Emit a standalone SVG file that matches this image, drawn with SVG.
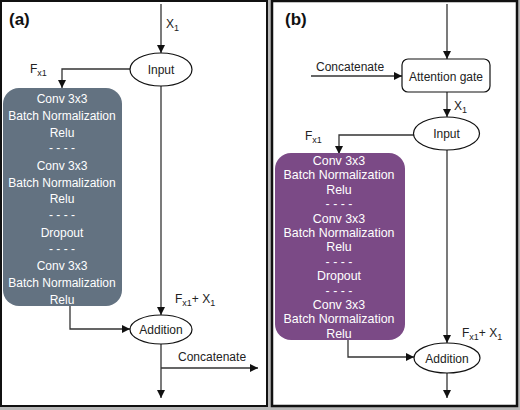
<svg xmlns="http://www.w3.org/2000/svg" width="520" height="410" viewBox="0 0 520 410">
<defs>
<marker id="ah" viewBox="0 0 10 10" refX="10" refY="5" markerWidth="8" markerHeight="8" markerUnits="userSpaceOnUse" orient="auto">
<path d="M0,0 L10,5 L0,10 z" fill="#111"/>
</marker>
<style>
text{font-family:"Liberation Sans",Arial,sans-serif;}
.lbl{font-size:12px;fill:#222;}
.blk{font-size:12px;fill:#fff;text-anchor:middle;}
.blkb{font-size:12.4px;fill:#fff;text-anchor:middle;}
.ttl{font-size:17px;font-weight:bold;fill:#111;}
.ca{fill:none;stroke:#333;stroke-width:1.3;marker-end:url(#ah);}
.ell{fill:#fff;stroke:#111;stroke-width:1.2;}
.sub{font-size:9px;}
</style>
</defs>
<rect x="0" y="0" width="520" height="410" fill="#b8b8b8"/>
<rect x="1" y="1" width="266" height="405" fill="#fff" stroke="#111" stroke-width="2"/>
<rect x="272" y="1" width="245" height="405" fill="#fff" stroke="#111" stroke-width="2.5"/>

<g id="connectors">
<line class="ca" x1="161" y1="4" x2="161" y2="53"/>
<polyline class="ca" points="130,69 62,69 62,88"/>
<line class="ca" x1="161" y1="86" x2="161" y2="315"/>
<polyline class="ca" points="70,306 70,329 130,329"/>
<line class="ca" x1="161" y1="344" x2="161" y2="398"/>
<line class="ca" x1="161" y1="368" x2="258" y2="368"/>
<line class="ca" x1="447" y1="4" x2="447" y2="59"/>
<line class="ca" x1="311" y1="76" x2="402" y2="76"/>
<line class="ca" x1="447" y1="92" x2="447" y2="117"/>
<polyline class="ca" points="414,135 339,135 339,154"/>
<line class="ca" x1="447" y1="150" x2="447" y2="343"/>
<polyline class="ca" points="348,340 348,357 414,357"/>
<line class="ca" x1="447" y1="373" x2="447" y2="398"/>
</g>

<g id="labels-a">
<text class="ttl" x="9" y="25">(a)</text>
<text class="lbl" x="166" y="28" font-size="13">X<tspan class="sub" dy="3">1</tspan></text>
<text class="lbl" x="30" y="73">F<tspan class="sub" dy="3">x1</tspan></text>
<text class="lbl" x="175" y="303">F<tspan class="sub" dy="3">x1</tspan><tspan dy="-3">+ X</tspan><tspan class="sub" dy="3">1</tspan></text>
<text class="lbl" x="178" y="361">Concatenate</text>
</g>

<g id="input-a">
<ellipse class="ell" cx="161" cy="69.5" rx="31" ry="16.5"/>
<text class="lbl" x="161" y="74" text-anchor="middle">Input</text>
</g>

<g id="block-a">
<rect x="3" y="88" width="119" height="218" rx="16" fill="#637281"/>
<text class="blk" x="62" y="103">Conv 3x3</text>
<text class="blk" x="62" y="120">Batch Normalization</text>
<text class="blk" x="62" y="137">Relu</text>
<text class="blk" x="62" y="152">- - - -</text>
<text class="blk" x="62" y="170">Conv 3x3</text>
<text class="blk" x="62" y="187">Batch Normalization</text>
<text class="blk" x="62" y="203">Relu</text>
<text class="blk" x="62" y="219">- - - -</text>
<text class="blk" x="62" y="237">Dropout</text>
<text class="blk" x="62" y="253">- - - -</text>
<text class="blk" x="62" y="270">Conv 3x3</text>
<text class="blk" x="62" y="287">Batch Normalization</text>
<text class="blk" x="62" y="304">Relu</text>
</g>

<g id="addition-a">
<ellipse class="ell" cx="161" cy="329.5" rx="31" ry="14.5"/>
<text class="lbl" x="161" y="334" text-anchor="middle">Addition</text>
</g>

<g id="labels-b">
<text class="ttl" x="285" y="25">(b)</text>
<text class="lbl" x="316" y="71" font-size="13">Concatenate</text>
<text class="lbl" x="454" y="110" font-size="13">X<tspan class="sub" dy="3">1</tspan></text>
<text class="lbl" x="305" y="140" font-size="13">F<tspan class="sub" dy="3">x1</tspan></text>
<text class="lbl" x="462" y="337" font-size="13">F<tspan class="sub" dy="3">x1</tspan><tspan dy="-3">+ X</tspan><tspan class="sub" dy="3">1</tspan></text>
</g>

<g id="attention-gate">
<rect x="402" y="59" width="88" height="33" rx="6" fill="#fff" stroke="#111" stroke-width="1.2"/>
<text class="lbl" x="446" y="80.5" font-size="13" text-anchor="middle">Attention gate</text>
</g>

<g id="input-b">
<ellipse class="ell" cx="446.5" cy="133.5" rx="33" ry="16.5"/>
<text class="lbl" x="446.5" y="138" font-size="13" text-anchor="middle">Input</text>
</g>

<g id="block-b">
<rect x="275" y="153" width="130" height="187" rx="16" fill="#7b4a86"/>
<text class="blkb" x="339" y="165">Conv 3x3</text>
<text class="blkb" x="339" y="179.4">Batch Normalization</text>
<text class="blkb" x="339" y="193.8">Relu</text>
<text class="blkb" x="339" y="208.2">- - - -</text>
<text class="blkb" x="339" y="222.6">Conv 3x3</text>
<text class="blkb" x="339" y="237">Batch Normalization</text>
<text class="blkb" x="339" y="251.4">Relu</text>
<text class="blkb" x="339" y="265.8">- - - -</text>
<text class="blkb" x="339" y="280.2">Dropout</text>
<text class="blkb" x="339" y="294.6">- - - -</text>
<text class="blkb" x="339" y="309">Conv 3x3</text>
<text class="blkb" x="339" y="323.4">Batch Normalization</text>
<text class="blkb" x="339" y="337.8">Relu</text>
</g>

<g id="addition-b">
<ellipse class="ell" cx="447" cy="358" rx="33" ry="15"/>
<text class="lbl" x="447" y="362.5" font-size="13" text-anchor="middle">Addition</text>
</g>
</svg>
